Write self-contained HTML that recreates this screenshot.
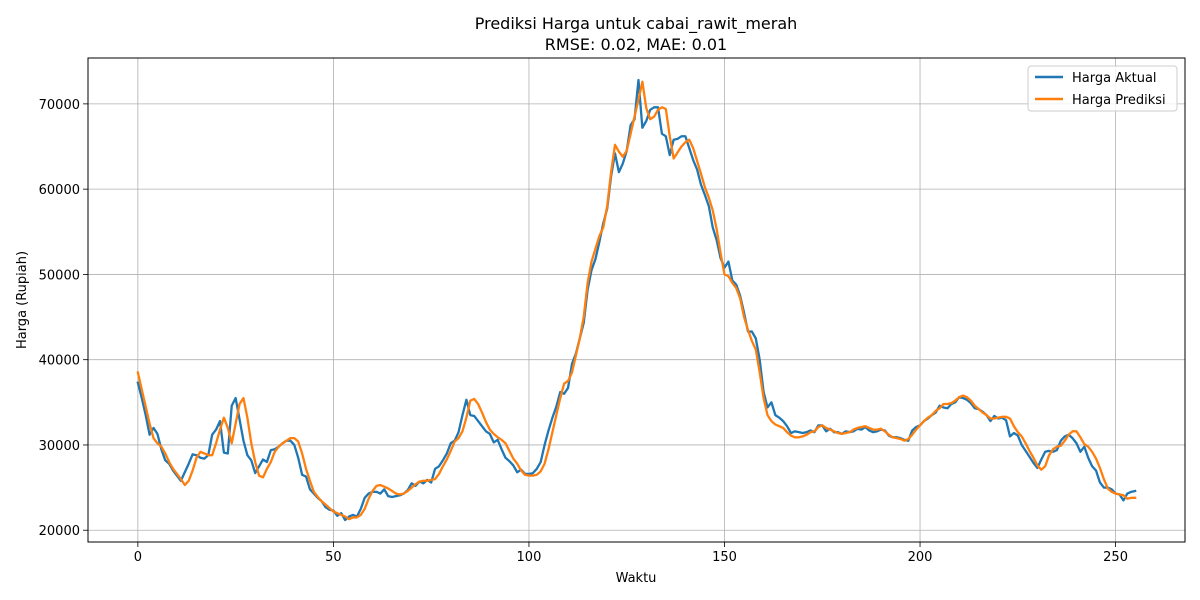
<!DOCTYPE html>
<html><head><meta charset="utf-8"><style>
html,body{margin:0;padding:0;background:#fff;}
svg{display:block;font-family:"DejaVu Sans","Liberation Sans",sans-serif;}
</style></head><body>
<svg id="chart" width="1200" height="600">
<rect x="0" y="0" width="1200" height="600" fill="#fff"/>
<text x="636" y="29" text-anchor="middle" font-size="16" fill="#000">Prediksi Harga untuk cabai_rawit_merah</text>
<text x="636" y="50" text-anchor="middle" font-size="16" fill="#000">RMSE: 0.02, MAE: 0.01</text>
<g id="grid"></g>
<g id="series"></g>
<rect x="88" y="58" width="1097" height="484" fill="none" stroke="#000" stroke-width="1"/>
<g id="ticks"></g>
<text x="636" y="582" text-anchor="middle" font-size="13">Waktu</text>
<text transform="translate(26,300) rotate(-90)" text-anchor="middle" font-size="13">Harga (Rupiah)</text>
<g>
<rect x="1028" y="66" width="149" height="45" rx="3" fill="#fff" fill-opacity="0.8" stroke="#ccc"/>
<line x1="1035" y1="77" x2="1063" y2="77" stroke="#1f77b4" stroke-width="2.5"/>
<text x="1072" y="82" font-size="13">Harga Aktual</text>
<line x1="1035" y1="99" x2="1063" y2="99" stroke="#ff7f0e" stroke-width="2.5"/>
<text x="1072" y="104" font-size="13">Harga Prediksi</text>
</g>
</svg>
<script>
const actual = [37.3,35.5,33.5,31.2,32,31.3,29.5,28.2,27.8,27,26.4,25.8,26.8,27.8,28.9,28.8,28.5,28.4,28.8,31.2,31.8,32.8,29.1,29,34.6,35.5,33,30.5,28.8,28.2,26.7,27.5,28.3,28,29.4,29.5,29.8,30.2,30.5,30.5,30,28.5,26.5,26.3,24.8,24.3,23.8,23.4,22.7,22.4,22.3,21.7,22,21.2,21.6,21.8,21.6,22.5,23.8,24.3,24.5,24.5,24.3,24.8,24,23.9,24,24.1,24.3,24.7,25.5,25.2,25.7,25.5,25.9,25.6,27.2,27.5,28.2,29,30.2,30.5,31.5,33.5,35.3,33.5,33.4,32.8,32.2,31.6,31.3,30.3,30.6,29.5,28.5,28.1,27.6,26.8,27.1,26.6,26.6,26.7,27.2,28,30,31.7,33.2,34.5,36.2,36,36.7,39.5,40.7,42.5,44.3,48.2,50.5,51.8,53.8,56,57.7,61.5,64.2,62,63,64.5,67.5,68.2,72.8,67.2,68,69.3,69.6,69.6,66.5,66.2,64,65.8,65.9,66.2,66.2,64.8,63.4,62.3,60.5,59.3,58,55.5,54,51.9,50.8,51.5,49.3,48.8,47.5,45.5,43.3,43.3,42.5,40,36.2,34.4,35,33.5,33.2,32.8,32.2,31.4,31.6,31.5,31.4,31.5,31.7,31.5,32.3,32.3,31.6,31.9,31.5,31.5,31.3,31.6,31.5,31.6,31.9,31.8,32.1,31.7,31.5,31.6,31.8,31.7,31.1,30.9,30.9,30.8,30.6,30.5,31.7,32.1,32.3,32.8,33.1,33.5,33.8,34.6,34.4,34.3,34.8,35,35.6,35.5,35.3,34.9,34.3,34.2,33.9,33.5,32.8,33.4,33.1,33.2,32.9,31,31.4,31.1,30,29.3,28.6,27.9,27.3,28.3,29.2,29.3,29.2,29.4,30.5,31,31.2,30.8,30.2,29.2,29.8,28.5,27.5,27,25.6,25,25,24.8,24.3,24.2,23.5,24.3,24.5,24.6];
const predicted = [38.5,36.5,34.5,32.5,30.8,30.2,29.8,29,28,27.2,26.6,26,25.3,25.8,27,28.5,29.2,29,28.8,28.8,30.2,31.8,33.2,32,30.2,32.5,34.8,35.5,33.2,30.2,28,26.4,26.2,27.2,28,29.2,29.8,30.2,30.5,30.8,30.8,30.4,29,27.2,25.8,24.5,23.9,23.4,23,22.6,22.2,22,21.8,21.6,21.3,21.5,21.5,21.8,22.5,23.7,24.6,25.2,25.3,25.1,24.9,24.6,24.3,24.2,24.3,24.6,25,25.4,25.7,25.8,25.8,25.9,26,26.6,27.5,28.3,29.3,30.4,30.8,31.6,33.2,35.2,35.4,34.8,33.8,32.7,31.8,31.3,30.9,30.6,30.2,29.3,28.4,27.8,27,26.5,26.4,26.4,26.5,26.9,27.8,29.5,31.5,33.5,35.5,37.2,37.5,38.5,40.5,42.5,45,49,51.5,53,54.5,55.5,58,62,65.2,64.4,63.8,64.5,66.5,68.5,70.5,72.6,69.5,68.2,68.5,69.3,69.6,69.4,66.2,63.6,64.3,65,65.5,65.8,64.8,63.3,61.8,60.2,59,57.5,55.3,52.5,50,49.8,49,48.4,47.2,45,43.5,42.2,41.2,38.5,35.5,33.5,32.8,32.4,32.2,32,31.5,31.1,30.9,30.9,31,31.2,31.5,31.6,32.1,32.3,32,31.8,31.6,31.4,31.3,31.4,31.5,31.8,32,32.1,32.2,32,31.8,31.8,31.9,31.6,31.2,30.9,30.8,30.7,30.5,30.7,31.2,31.8,32.3,32.8,33.2,33.5,34,34.3,34.8,34.8,34.9,35.2,35.6,35.8,35.6,35.2,34.6,34.2,33.8,33.5,33.1,33.1,33.2,33.3,33.3,33.1,32.2,31.5,31,30.2,29.3,28.5,27.6,27.1,27.5,28.8,29.5,29.8,29.9,30.5,31.2,31.6,31.6,30.9,30.1,29.8,29.2,28.4,27.3,26,24.9,24.5,24.3,24.2,24.1,23.7,23.8,23.8];
const xTicks = [0,50,100,150,200,250];
const yTicks = [20000,30000,40000,50000,60000,70000];

const NS = "http://www.w3.org/2000/svg";
const L = 88, R = 1185, T = 58, B = 542;
const n = Math.max(actual.length, predicted.length);
const xMin = -0.05 * (n - 1), xMax = (n - 1) * 1.05;
const all = actual.concat(predicted);
const dMin = Math.min(...all), dMax = Math.max(...all), pad = (dMax - dMin) * 0.05;
const yMin = dMin - pad, yMax = dMax + pad;
function sx(i){ return L + (i - xMin) / (xMax - xMin) * (R - L); }
function sy(v){ return B - (v - yMin) / (yMax - yMin) * (B - T); }

const grid = document.getElementById('grid');
const ticks = document.getElementById('ticks');
function mk(tag, attrs, parent){ const e = document.createElementNS(NS, tag); for (const k in attrs) e.setAttribute(k, attrs[k]); parent.appendChild(e); return e; }

xTicks.forEach(t => {
  const x = sx(t);
  const g = mk('line', {x1:x, x2:x, y1:T, y2:B, stroke:'#b0b0b0', 'stroke-width':0.8}, grid);
  
  
  const tk = mk('line', {x1:x, x2:x, y1:B, y2:B+5, stroke:'#000', 'stroke-width':0.8}, ticks);
  
  
  const tx = mk('text', {x:x, y:B+19, 'text-anchor':'middle', 'font-size':13}, ticks);
  tx.textContent = t;
  
  
});
yTicks.forEach(t => {
  const y = sy(t / 1000);
  const g = mk('line', {x1:L, x2:R, y1:y, y2:y, stroke:'#b0b0b0', 'stroke-width':0.8}, grid);
  
  
  const tk = mk('line', {x1:L-5, x2:L, y1:y, y2:y, stroke:'#000', 'stroke-width':0.8}, ticks);
  
  
  const tx = mk('text', {x:L-8, y:y+5, 'text-anchor':'end', 'font-size':13}, ticks);
  tx.textContent = t;
  
  
});

const series = document.getElementById('series');
function line(data, color, name){
  const d = data.map((v, i) => (i ? 'L' : 'M') + sx(i).toFixed(2) + ',' + sy(v).toFixed(2)).join('');
  const p = mk('path', {d:d, fill:'none', stroke:color, 'stroke-width':2.3, 'stroke-linejoin':'round', 'stroke-linecap':'square'}, series);
  
  
}
line(actual, '#1f77b4', 'actual-price-line');
line(predicted, '#ff7f0e', 'predicted-price-line');
</script>
</body></html>
